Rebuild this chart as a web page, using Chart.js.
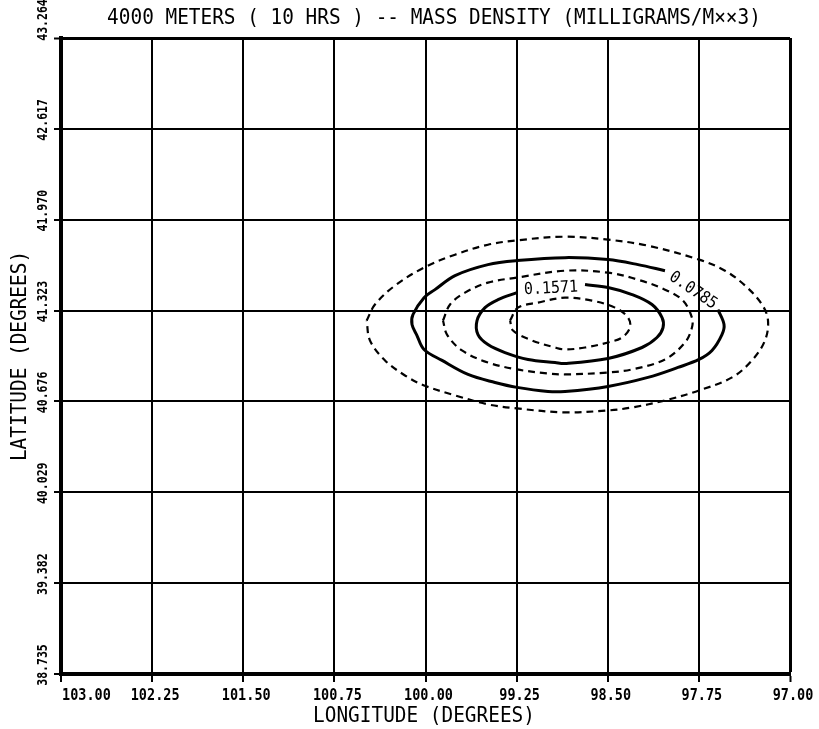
<!DOCTYPE html>
<html>
<head>
<meta charset="utf-8">
<script src="https://cdn.jsdelivr.net/npm/chart.js@4.4.1/dist/chart.umd.min.js"></script>
<style>
  html, body { margin: 0; padding: 0; background: #fff; }
  #c { display: block; }
</style>
</head>
<body>
<canvas id="c" width="819" height="729"></canvas>
<script>
// ---- text ----
const chartTitle = '4000 METERS ( 10 HRS ) -- MASS DENSITY (MILLIGRAMS/M\u00d7\u00d73)';
const xTitle = 'LONGITUDE (DEGREES)';
const yTitle = 'LATITUDE (DEGREES)';

// ---- axes (longitude runs east to the right, so the scale is reversed) ----
const lonTicks = [103.00, 102.25, 101.50, 100.75, 100.00, 99.25, 98.50, 97.75, 97.00];
const latTicks = [38.735, 39.382, 40.029, 40.676, 41.323, 41.970, 42.617, 43.264];

// ---- contour lines of mass density, [longitude, latitude] ----
// closed, dashed
const c0393 = [
  [100.484, 41.252], [100.416, 41.366], [100.251, 41.501], [100.012, 41.629],
  [99.757, 41.721], [99.486, 41.792], [99.249, 41.823], [98.852, 41.849],
  [98.498, 41.828], [98.169, 41.785], [97.749, 41.686], [97.535, 41.607],
  [97.370, 41.501], [97.230, 41.366], [97.181, 41.252], [97.206, 41.110],
  [97.313, 40.968], [97.477, 40.847], [97.749, 40.754], [98.029, 40.683],
  [98.300, 40.633], [98.498, 40.612], [98.852, 40.598], [99.247, 40.626],
  [99.486, 40.655], [99.757, 40.719], [100.012, 40.790], [100.169, 40.861],
  [100.333, 40.968], [100.457, 41.110]
];
// open (broken by its label), solid
const c0785 = [
  [97.593, 41.330], [97.543, 41.224], [97.560, 41.152], [97.642, 41.039],
  [97.749, 40.975], [97.922, 40.918], [98.169, 40.847], [98.498, 40.783],
  [98.852, 40.747], [98.992, 40.747], [99.247, 40.776], [99.428, 40.811],
  [99.650, 40.868], [99.864, 40.968], [100.012, 41.046], [100.070, 41.145],
  [100.111, 41.224], [100.103, 41.295], [100.012, 41.415], [99.922, 41.472],
  [99.757, 41.572], [99.486, 41.650], [99.247, 41.679], [98.852, 41.700],
  [98.498, 41.686], [98.251, 41.650], [98.029, 41.607]
];
// closed, dashed
const c1178 = [
  [99.856, 41.252], [99.798, 41.366], [99.675, 41.451], [99.486, 41.522],
  [99.247, 41.558], [98.852, 41.607], [98.498, 41.593], [98.251, 41.543],
  [98.029, 41.472], [97.881, 41.394], [97.807, 41.273], [97.807, 41.202],
  [97.864, 41.096], [98.029, 40.975], [98.300, 40.904], [98.498, 40.882],
  [98.852, 40.868], [98.992, 40.875], [99.247, 40.904], [99.486, 40.953],
  [99.700, 41.039], [99.823, 41.152]
];
// open (broken by its label), solid
const c1571 = [
  [98.687, 41.508], [98.498, 41.487], [98.300, 41.437], [98.136, 41.366],
  [98.053, 41.273], [98.045, 41.202], [98.095, 41.131], [98.218, 41.060],
  [98.498, 40.982], [98.852, 40.946], [98.934, 40.953], [99.156, 40.975],
  [99.346, 41.024], [99.486, 41.081], [99.568, 41.152], [99.576, 41.252],
  [99.510, 41.344], [99.403, 41.401], [99.247, 41.451]
];
// closed, dashed
const c1963 = [
  [99.304, 41.252], [99.239, 41.344], [99.074, 41.380], [98.852, 41.415],
  [98.630, 41.394], [98.440, 41.344], [98.333, 41.273], [98.317, 41.202],
  [98.383, 41.131], [98.498, 41.096], [98.687, 41.060], [98.852, 41.046],
  [98.934, 41.060], [99.123, 41.110], [99.280, 41.181]
];

// ---- contour labels: text, longitude, latitude, angle (deg) ----
const contourLabels = [
  ['0.1571', 98.967, 41.479, -3],
  ['0.0785', 97.798, 41.465, 34]
];

const FONT = '"DejaVu Sans Mono", "Liberation Mono", monospace';

function pts(list, closed) {
  const out = list.map(p => ({ x: p[0], y: p[1] }));
  if (closed) out.push({ x: list[0][0], y: list[0][1] });
  return out;
}
function contour(list, closed, dashed) {
  return {
    data: pts(list, closed),
    showLine: true,
    borderColor: '#000',
    borderWidth: dashed ? 2.2 : 3,
    borderDash: dashed ? [7, 5] : [],
    pointRadius: 0,
    tension: 0.35,
    fill: false
  };
}

// draw text stretched vertically (plotter lettering is tall and narrow)
function tallText(ctx, text, x, y, stretch) {
  ctx.save();
  ctx.translate(x, y);
  ctx.scale(1, stretch);
  ctx.fillText(text, 0, 0);
  ctx.restore();
}

// Titles, tick labels and contour labels
const textPlugin = {
  id: 'plotText',
  afterDraw(chart) {
    const ctx = chart.ctx;
    const xs = chart.scales.x, ys = chart.scales.y;
    ctx.save();
    ctx.fillStyle = '#000';
    ctx.textBaseline = 'alphabetic';

    // main title
    ctx.font = '19.4px ' + FONT;
    ctx.textAlign = 'center';
    tallText(ctx, chartTitle, 434, 24, 1.1);

    // x axis title
    tallText(ctx, xTitle, 424, 722, 1.1);

    // y axis title
    ctx.save();
    ctx.translate(26, 356);
    ctx.rotate(-Math.PI / 2);
    ctx.scale(1, 1.1);
    ctx.fillText(yTitle, 0, 0);
    ctx.restore();

    // x tick labels
    ctx.font = 'bold 13.5px ' + FONT;
    lonTicks.forEach((v, i) => {
      const px = xs.getPixelForValue(v);
      if (i === 0) { ctx.textAlign = 'left'; tallText(ctx, v.toFixed(2), px + 1, 700, 1.2); }
      else { ctx.textAlign = 'center'; tallText(ctx, v.toFixed(2), px + 3, 700, 1.2); }
    });

    // y tick labels (rotated, reading upward); the top one sits above the frame
    ctx.font = 'bold 11.5px ' + FONT;
    const last = latTicks.length - 1;
    latTicks.forEach((v, i) => {
      const py = ys.getPixelForValue(v);
      ctx.save();
      ctx.translate(47, i === last ? 20 : py - 9);
      ctx.rotate(-Math.PI / 2);
      ctx.scale(1, 1.3);
      ctx.textAlign = 'center';
      ctx.fillText(v.toFixed(3), 0, 0);
      ctx.restore();
    });

    // contour labels
    ctx.font = '15px ' + FONT;
    contourLabels.forEach(([t, lon, lat, ang]) => {
      ctx.save();
      ctx.translate(xs.getPixelForValue(lon), ys.getPixelForValue(lat));
      ctx.rotate(ang * Math.PI / 180);
      ctx.scale(1, 1.1);
      ctx.textAlign = 'center';
      ctx.textBaseline = 'middle';
      ctx.fillText(t, 0, 0);
      ctx.restore();
    });
    ctx.restore();
  }
};

new Chart(document.getElementById('c'), {
  type: 'scatter',
  data: {
    datasets: [
      contour(c0393, true, true),
      contour(c0785, false, false),
      contour(c1178, true, true),
      contour(c1571, false, false),
      contour(c1963, true, true)
    ]
  },
  options: {
    responsive: false,
    animation: false,
    devicePixelRatio: 1,
    layout: { padding: { left: 54, right: 29, top: 38, bottom: 47 } },
    plugins: { legend: { display: false }, tooltip: { enabled: false }, title: { display: false } },
    scales: {
      x: {
        type: 'linear', reverse: true, min: 97, max: 103,
        afterBuildTicks: s => { s.ticks = lonTicks.map(v => ({ value: v })); },
        ticks: { display: false },
        grid: {
          color: '#000', drawTicks: true, tickLength: 8, tickColor: '#000', tickWidth: 2,
          lineWidth: c => (c.tick && c.tick.value === 97 ? 3 : 2)
        },
        border: { display: true, color: '#000', width: 4 }
      },
      y: {
        type: 'linear', min: 38.735, max: 43.264,
        afterBuildTicks: s => { s.ticks = latTicks.map(v => ({ value: v })); },
        ticks: { display: false },
        grid: {
          color: '#000', drawTicks: true, tickLength: 7, tickColor: '#000', tickWidth: 2,
          lineWidth: c => (c.tick && c.tick.value === 43.264 ? 3 : 2)
        },
        border: { display: true, color: '#000', width: 4 }
      }
    }
  },
  plugins: [textPlugin]
});
</script>
</body>
</html>
